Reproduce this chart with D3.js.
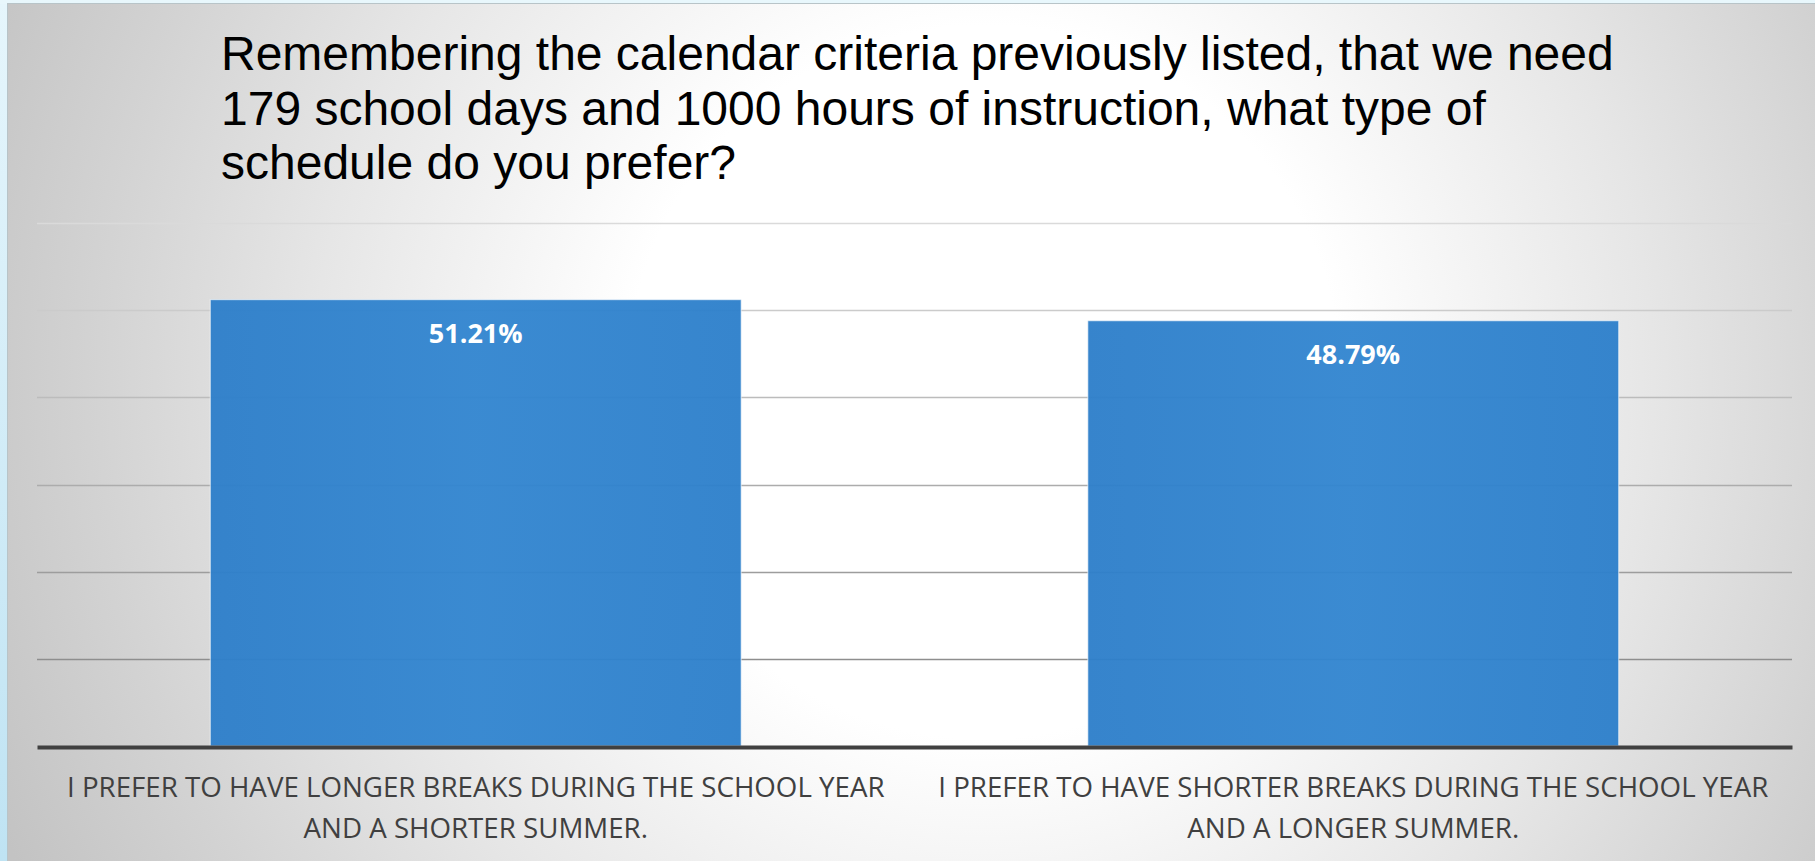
<!DOCTYPE html>
<html>
<head>
<meta charset="utf-8">
<script src="https://cdn.jsdelivr.net/npm/d3@7"></script>
<style>
html,body{margin:0;padding:0;background:#e4f5fb;overflow:hidden;}
svg{display:block;}
</style>
</head>
<body>
<svg id="chart" width="1815" height="861"></svg>
<script>
// ---- data ----
const titleLines = [
  "Remembering the calendar criteria previously listed, that we need",
  "179 school days and 1000 hours of instruction, what type of",
  "schedule do you prefer?"
];
const categories = [
  "I PREFER TO HAVE LONGER BREAKS DURING THE SCHOOL YEAR AND A SHORTER SUMMER.",
  "I PREFER TO HAVE SHORTER BREAKS DURING THE SCHOOL YEAR AND A LONGER SUMMER."
];
const categoryLines = [
  ["I PREFER TO HAVE LONGER BREAKS DURING THE SCHOOL YEAR", "AND A SHORTER SUMMER."],
  ["I PREFER TO HAVE SHORTER BREAKS DURING THE SCHOOL YEAR", "AND A LONGER SUMMER."]
];
const values = [51.21, 48.79];
const yTicks = [0, 10, 20, 30, 40, 50, 60];

// ---- layout ----
const W = 1815, H = 861;
const svg = d3.select("#chart");
const defs = svg.append("defs");

// left/top light-blue strips
const lb = defs.append("linearGradient").attr("id","lb").attr("x1",0).attr("y1",0).attr("x2",0).attr("y2",1);
lb.append("stop").attr("offset","0%").attr("stop-color","#e6f6fc");
lb.append("stop").attr("offset","100%").attr("stop-color","#bfe3f3");
svg.append("rect").attr("x",0).attr("y",0).attr("width",W).attr("height",H).attr("fill","url(#lb)");
svg.append("rect").attr("x",0).attr("y",0).attr("width",W).attr("height",4).attr("fill","#e8f7fc");

// panel radial gradient (circular, centred slightly right of middle)
const rg = defs.append("radialGradient").attr("id","bg")
  .attr("gradientUnits","userSpaceOnUse")
  .attr("cx",984).attr("cy",382).attr("r",1080).attr("fx",984).attr("fy",382);
rg.append("stop").attr("offset","0%").attr("stop-color","#ffffff");
rg.append("stop").attr("offset","33%").attr("stop-color","#ffffff");
rg.append("stop").attr("offset","62%").attr("stop-color","#e6e6e6");
rg.append("stop").attr("offset","82%").attr("stop-color","#d3d3d3");
rg.append("stop").attr("offset","100%").attr("stop-color","#c3c3c3");
const panelX = 7, panelY = 3;
svg.append("rect").attr("x",panelX).attr("y",panelY).attr("width",W-panelX).attr("height",H-panelY)
  .attr("fill","url(#bg)");
svg.append("line").attr("x1",panelX).attr("x2",W).attr("y1",panelY+0.5).attr("y2",panelY+0.5)
  .attr("stroke","#b8c4c8").attr("stroke-width",1);
svg.append("line").attr("x1",panelX+0.5).attr("x2",panelX+0.5).attr("y1",panelY).attr("y2",H)
  .attr("stroke","#b8c4c8").attr("stroke-width",1);

// ---- scales ----
const plotLeft = 37, plotRight = 1792, plotTop = 223, plotBottom = 746;
const x = d3.scaleBand().domain(categories).range([plotLeft, plotRight])
  .paddingInner(0.395).paddingOuter(0.1975);
const y = d3.scaleLinear().domain([0, 60]).range([plotBottom, plotTop]);

// gridlines (darker towards the bottom)
const gridColor = d3.scaleLinear().domain([60, 10]).range(["#dadada", "#8e8e8e"]);
svg.append("g").selectAll("line").data(yTicks.filter(d => d > 0)).join("line")
  .attr("x1", plotLeft).attr("x2", plotRight)
  .attr("y1", d => Math.round(y(d)) + 0.5).attr("y2", d => Math.round(y(d)) + 0.5)
  .attr("stroke", d => gridColor(d)).attr("stroke-width", 1.5);

// bars
const barG = defs.append("linearGradient").attr("id","barg").attr("x1",0).attr("y1",0).attr("x2",1).attr("y2",0);
barG.append("stop").attr("offset","0%").attr("stop-color","#2e7fca");
barG.append("stop").attr("offset","50%").attr("stop-color","#3386d0");
barG.append("stop").attr("offset","100%").attr("stop-color","#2e80cb");
svg.append("g").selectAll("rect").data(values).join("rect")
  .attr("x", (d,i) => x(categories[i]))
  .attr("width", x.bandwidth())
  .attr("y", d => y(d))
  .attr("height", d => plotBottom - y(d))
  .attr("fill", "url(#barg)")
  .attr("fill-opacity", 0.96)
  .attr("stroke", "rgba(255,255,255,0.55)")
  .attr("stroke-width", 1.2);

// baseline axis
const xAxis = d3.axisBottom(x).tickSize(0).tickFormat("");
const axG = svg.append("g").attr("transform", `translate(0,${plotBottom + 1})`).call(xAxis);
axG.select(".domain").attr("stroke", "#404040").attr("stroke-width", 4);

// value labels
svg.append("g").selectAll("text").data(values).join("text")
  .attr("x", (d,i) => x(categories[i]) + x.bandwidth()/2)
  .attr("y", d => y(d) + 43)
  .attr("text-anchor", "middle")
  .attr("font-family", "'Open Sans', 'Noto Sans', sans-serif")
  .attr("font-weight", "700")
  .attr("font-size", 27)
  .attr("fill", "#ffffff")
  .text(d => d.toFixed(2) + "%");

// category labels
const catG = svg.append("g");
categoryLines.forEach((lines, i) => {
  const cx = x(categories[i]) + x.bandwidth()/2;
  lines.forEach((ln, j) => {
    catG.append("text")
      .attr("x", cx).attr("y", 797 + j*41)
      .attr("text-anchor", "middle")
      .attr("font-family", "'Open Sans', 'Noto Sans', sans-serif")
      .attr("font-size", 27.7)
      .attr("fill", "#404040")
      .text(ln);
  });
});

// title
const tt = svg.append("g");
titleLines.forEach((ln, i) => {
  tt.append("text")
    .attr("x", 221).attr("y", 70 + i*54.5)
    .attr("font-family", "'Liberation Sans', Arial, sans-serif")
    .attr("font-size", 48)
    .attr("fill", "#000000")
    .text(ln);
});
</script>
</body>
</html>
